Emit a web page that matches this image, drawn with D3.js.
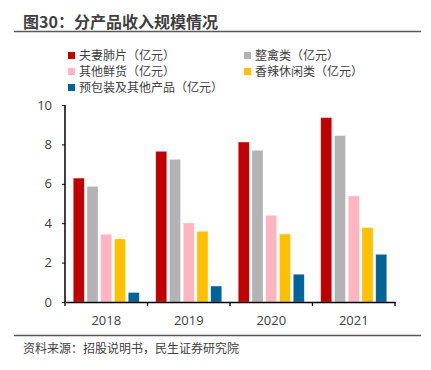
<!DOCTYPE html>
<html>
<head>
<meta charset="utf-8">
<script src="https://cdn.jsdelivr.net/npm/d3@7"></script>
<style>
  body { margin: 0; background: #fff; }
  text { font-family: "Noto Sans CJK SC", "Open Sans", sans-serif; }
  .tick text { font-family: "Open Sans", "Noto Sans", sans-serif; }
</style>
</head>
<body>
<div id="chart"></div>
<script>
/* DATA */
const years = ["2018", "2019", "2020", "2021"];
const seriesNames = ["夫妻肺片（亿元）", "整禽类（亿元）", "其他鲜货（亿元）", "香辣休闲类（亿元）", "预包装及其他产品（亿元）"];
const fuqiFeipian = [6.29, 7.65, 8.12, 9.36];
const zhengQin = [5.87, 7.24, 7.70, 8.45];
const otherFresh = [3.44, 4.01, 4.40, 5.38];
const spicySnack = [3.20, 3.59, 3.45, 3.78];
const packaged = [0.48, 0.81, 1.41, 2.42];
const yTicks = [0, 2, 4, 6, 8, 10];

const colors = ["#C00000", "#B3B3B3", "#FFB5C0", "#FFC000", "#00649A"];
const allSeries = [fuqiFeipian, zhengQin, otherFresh, spicySnack, packaged];

const width = 431, height = 370;
const margin = { top: 105, bottom: 68, left: 65, right: 36 };

const svg = d3.select("#chart").append("svg")
  .attr("width", width)
  .attr("height", height);

// title + rules
svg.append("text")
  .attr("x", 23).attr("y", 28)
  .style("font-size", "16px").style("font-weight", "bold")
  .attr("fill", "#3f3f3f")
  .text("图30：分产品收入规模情况");
svg.append("line")
  .attr("x1", 14).attr("x2", 421).attr("y1", 31.5).attr("y2", 31.5)
  .attr("stroke", "#5a5a5a").attr("stroke-width", 1.3);
svg.append("line")
  .attr("x1", 14).attr("x2", 421).attr("y1", 335.5).attr("y2", 335.5)
  .attr("stroke", "#5a5a5a").attr("stroke-width", 1.3);
svg.append("text")
  .attr("x", 23).attr("y", 353)
  .style("font-size", "12px")
  .attr("fill", "#404040")
  .text("资料来源：招股说明书，民生证券研究院");

// scales
const xScale = d3.scaleBand()
  .domain(years)
  .range([margin.left, width - margin.right]);

const xInner = d3.scaleBand()
  .domain(d3.range(seriesNames.length))
  .range([0, xScale.bandwidth()])
  .paddingInner(0.2)
  .paddingOuter(0.6);

const yScale = d3.scaleLinear()
  .domain([0, 10])
  .range([height - margin.bottom, margin.top]);

// bars
const groups = svg.append("g").selectAll("g")
  .data(years)
  .join("g")
  .attr("transform", d => `translate(${xScale(d)},0)`);

groups.selectAll("rect")
  .data((d, i) => allSeries.map((s, k) => ({ k, v: s[i] })))
  .join("rect")
  .attr("x", d => xInner(d.k))
  .attr("width", xInner.bandwidth())
  .attr("y", d => yScale(d.v))
  .attr("height", d => yScale(0) - yScale(d.v))
  .attr("fill", d => colors[d.k])
  .attr("stroke", "#fff")
  .attr("stroke-opacity", 0.5)
  .attr("stroke-width", 0.6);

// axes
const yAxis = svg.append("g")
  .attr("transform", `translate(${margin.left},0)`)
  .call(d3.axisLeft(yScale).tickValues(yTicks).tickSize(3).tickPadding(10));
const xAxis = svg.append("g")
  .attr("transform", `translate(0,${height - margin.bottom})`)
  .call(d3.axisBottom(xScale).tickSize(0).tickPadding(14));

// x ticks on band boundaries
const bounds = years.map(d => xScale(d)).concat([width - margin.right]);
svg.append("g").selectAll("line")
  .data(bounds)
  .join("line")
  .attr("x1", d => d).attr("x2", d => d)
  .attr("y1", yScale(0)).attr("y2", yScale(0) + 4)
  .attr("stroke", "#000").attr("stroke-width", 1.3);

[yAxis, xAxis].forEach(a => {
  a.select(".domain").attr("stroke", "#000").attr("stroke-width", 1.5);
  a.selectAll(".tick line").attr("stroke", "#000");
  a.selectAll("text").style("font-size", "13px").attr("fill", "#404040");
});
yAxis.select(".domain").attr("d", `M0,${yScale(10)}V${yScale(0)}`);

// legend
const legendPos = [[68, 57], [244, 57], [68, 73], [244, 73], [68, 89]];
const legend = svg.append("g").selectAll("g")
  .data(seriesNames)
  .join("g")
  .attr("transform", (d, i) => `translate(${legendPos[i][0]},${legendPos[i][1]})`);
legend.append("rect")
  .attr("x", 0).attr("y", -5).attr("width", 7).attr("height", 7)
  .attr("fill", (d, i) => colors[i]);
legend.append("text")
  .attr("x", 11).attr("y", 3)
  .style("font-size", "12px")
  .attr("fill", "#404040")
  .text(d => d);
</script>
</body>
</html>
